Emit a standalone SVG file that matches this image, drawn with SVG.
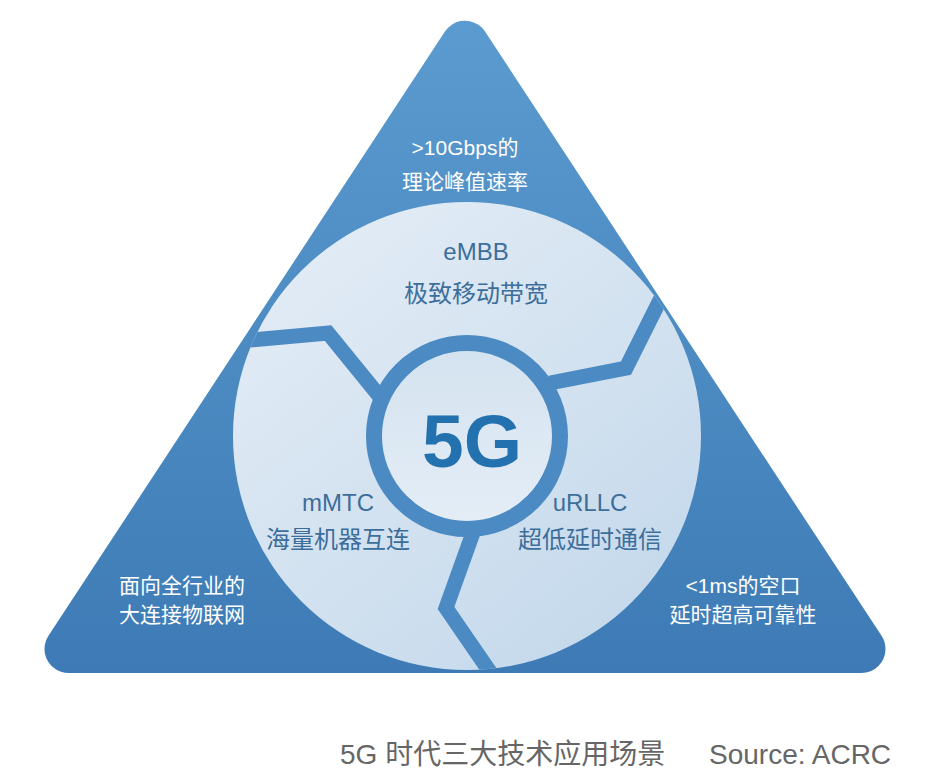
<svg xmlns="http://www.w3.org/2000/svg" width="931" height="775" viewBox="0 0 931 775">
<defs>
<linearGradient id="triG" gradientUnits="userSpaceOnUse" x1="0" y1="20" x2="0" y2="673">
<stop offset="0" stop-color="#5b9bcf"/>
<stop offset="1" stop-color="#3e7bb6"/>
</linearGradient>
<linearGradient id="circG" gradientUnits="userSpaceOnUse" x1="300" y1="230" x2="640" y2="660">
<stop offset="0" stop-color="#e2ecf6"/>
<stop offset="0.5" stop-color="#d3e2f0"/>
<stop offset="1" stop-color="#c3d8eb"/>
</linearGradient>
<linearGradient id="coreG" gradientUnits="userSpaceOnUse" x1="467" y1="350" x2="467" y2="522">
<stop offset="0" stop-color="#d4e3f0"/>
<stop offset="1" stop-color="#e4edf6"/>
</linearGradient>
<clipPath id="circClip"><circle cx="467" cy="436" r="234"/></clipPath>
<style>
.band{fill:none;stroke:#4b8ac2;stroke-width:15;stroke-linejoin:miter}
.white{font-family:"Liberation Sans","Noto Sans CJK SC",sans-serif;font-size:21px;fill:#ffffff;text-anchor:middle}
.blue{font-family:"Liberation Sans","Noto Sans CJK SC",sans-serif;font-size:24px;fill:#3d6e9b;text-anchor:middle}
.cap{font-family:"Liberation Sans","Noto Sans CJK SC",sans-serif;font-size:28px;fill:#666666}
</style>
</defs>
<rect width="931" height="775" fill="#ffffff"/>
<g id="triangle">
<polygon points="465,44.7 68.5,649 861.5,649" fill="url(#triG)" stroke="url(#triG)" stroke-width="48" stroke-linejoin="round"/>
<text class="white" x="465" y="155">&gt;10Gbps的</text>
<text class="white" x="465" y="189">理论峰值速率</text>
<text class="white" x="182" y="593">面向全行业的</text>
<text class="white" x="182" y="622">大连接物联网</text>
<text class="white" x="743" y="593">&lt;1ms的空口</text>
<text class="white" x="743" y="622">延时超高可靠性</text>
</g>
<g id="circle">
<circle cx="467" cy="436" r="234" fill="url(#circG)"/>
</g>
<g id="connectors" clip-path="url(#circClip)">
<polyline class="band" points="200,345 240,341 328,333 385,403"/>
<polyline class="band" points="550,383 626,368 664,292 680,258"/>
<polyline class="band" points="474,530 446,608 490,672 500,690"/>
</g>
<g id="core">
<circle cx="467" cy="436" r="93" fill="url(#coreG)" stroke="#4b8ac2" stroke-width="16"/>
<text x="472" y="467" font-family="'Liberation Sans',sans-serif" font-weight="bold" font-size="75" fill="#2371ae" text-anchor="middle">5G</text>
</g>
<g id="eMBB">
<text class="blue" x="476" y="260">eMBB</text>
<text class="blue" x="476" y="302">极致移动带宽</text>
</g>
<g id="mMTC">
<text class="blue" x="338" y="511">mMTC</text>
<text class="blue" x="338" y="548">海量机器互连</text>
</g>
<g id="uRLLC">
<text class="blue" x="590" y="511">uRLLC</text>
<text class="blue" x="590" y="548">超低延时通信</text>
</g>
<g id="caption">
<text class="cap" x="340" y="764">5G 时代三大技术应用场景</text>
<text class="cap" x="709" y="764">Source: ACRC</text>
</g>
</svg>
